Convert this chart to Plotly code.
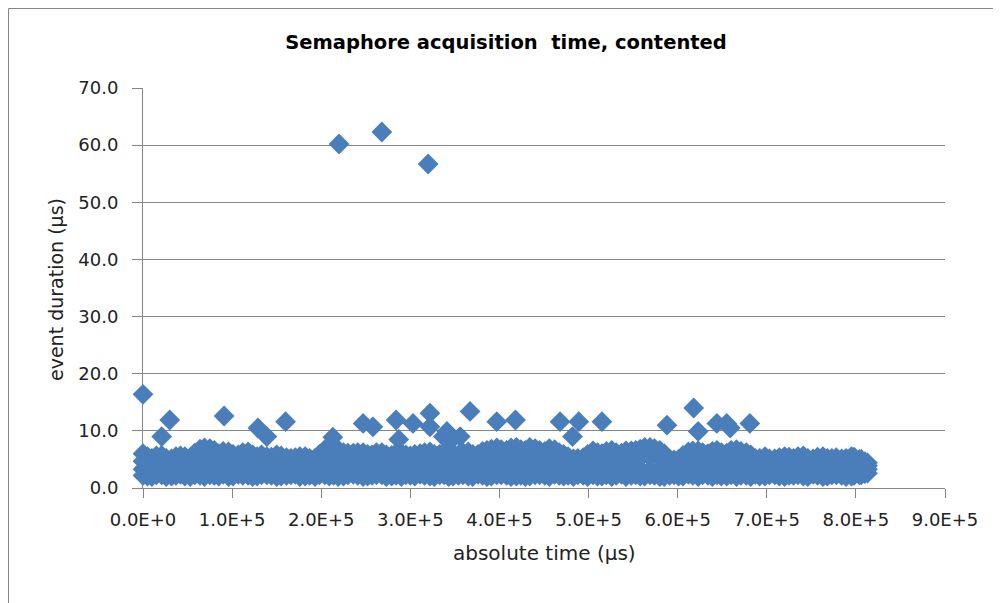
import plotly.graph_objects as go

# ---------------- data ----------------
# dense band of events: event times (µs) and stacked samples of durations (µs)
band_t = [
    0, 10000, 21000, 32000, 42000, 53000, 64000, 75000, 85000, 96000, 107000,
    118000, 128000, 139000, 150000, 161000, 171000, 182000, 193000, 204000, 214000, 225000,
    236000, 247000, 257000, 268000, 279000, 290000, 300000, 311000, 322000, 333000, 343000,
    354000, 365000, 376000, 386000, 397000, 408000, 419000, 429000, 440000, 451000, 462000,
    472000, 483000, 494000, 505000, 515000, 526000, 537000, 548000, 558000, 569000, 580000,
    591000, 601000, 612000, 623000, 634000, 644000, 655000, 666000, 677000, 687000, 698000,
    709000, 720000, 730000, 741000, 752000, 763000, 773000, 784000, 795000, 806000, 813000,
]
band_low = [
    2.2, 2.0, 2.3, 2.1, 2.4, 2.0, 2.2, 2.3, 2.1, 2.0, 2.4,
    2.2, 2.1, 2.3, 2.0, 2.2, 2.4, 2.1, 2.0, 2.3, 2.2, 2.1,
    2.4, 2.0, 2.2, 2.3, 2.1, 2.0, 2.2, 2.4, 2.1, 2.3, 2.0,
    2.2, 2.1, 2.4, 2.0, 2.3, 2.2, 2.1, 2.0, 2.3, 2.2, 2.4,
    2.1, 2.0, 2.2, 2.3, 2.1, 2.0, 2.4, 2.2, 2.1, 2.3, 2.0,
    2.2, 2.1, 2.4, 2.0, 2.2, 2.3, 2.1, 2.0, 2.2, 2.4, 2.1,
    2.3, 2.0, 2.2, 2.1, 2.4, 2.0, 2.3, 2.2, 2.1, 2.3, 2.6,
]
band_mid1 = [
    3.3, 3.1, 3.4, 3.2, 3.3, 3.1, 3.4, 3.3, 3.2, 3.4, 3.1,
    3.3, 3.2, 3.4, 3.1, 3.3, 3.2, 3.4, 3.1, 3.3, 3.4, 3.2,
    3.1, 3.3, 3.4, 3.2, 3.3, 3.1, 3.4, 3.2, 3.3, 3.1, 3.4,
    3.2, 3.3, 3.1, 3.4, 3.2, 3.3, 3.4, 3.1, 3.3, 3.2, 3.4,
    3.3, 3.1, 3.2, 3.4, 3.3, 3.1, 3.2, 3.4, 3.3, 3.1, 3.3,
    3.2, 3.4, 3.1, 3.3, 3.2, 3.4, 3.1, 3.3, 3.2, 3.4, 3.1,
    3.3, 3.2, 3.4, 3.1, 3.3, 3.2, 3.4, 3.1, 3.3, 3.2, 3.3,
]
band_mid2 = [
    4.7, 4.5, 4.6, 4.4, 4.6, 4.5, 5.1, 5.3, 4.8, 4.9, 4.7,
    4.9, 4.6, 4.5, 4.7, 4.5, 4.4, 4.6, 4.4, 5.1, 5.3, 4.9,
    4.8, 4.9, 4.7, 4.8, 4.7, 4.8, 4.6, 4.7, 4.9, 4.8, 4.9,
    4.7, 4.9, 4.8, 5.1, 5.3, 5.0, 5.4, 5.1, 5.3, 5.0, 5.1,
    4.8, 4.4, 4.5, 5.0, 4.8, 5.1, 4.9, 5.0, 5.3, 5.4, 5.1,
    4.3, 4.3, 4.9, 5.1, 4.8, 5.0, 4.9, 5.1, 4.9, 4.5, 4.5,
    4.4, 4.5, 4.5, 4.6, 4.4, 4.5, 4.5, 4.4, 4.5, 4.4, 3.9,
]
band_high = [
    6.0, 5.2, 5.7, 5.1, 5.6, 5.3, 6.8, 6.9, 6.0, 6.3, 5.8,
    6.3, 5.5, 5.5, 5.8, 5.3, 5.3, 5.5, 5.2, 6.7, 6.9, 6.2,
    6.1, 6.2, 5.8, 6.2, 5.7, 6.1, 5.6, 6.0, 6.3, 5.9, 6.4,
    5.8, 6.3, 5.9, 6.6, 7.0, 6.6, 7.1, 6.6, 6.9, 6.4, 6.7,
    5.9, 5.1, 5.3, 6.5, 6.0, 6.6, 6.1, 6.5, 6.8, 7.1, 6.6,
    5.0, 5.0, 6.3, 6.5, 6.0, 6.6, 6.1, 6.7, 6.2, 5.2, 5.5,
    5.1, 5.5, 5.2, 5.6, 5.1, 5.5, 5.2, 5.1, 5.5, 5.0, 4.4,
]
# second, interleaved set of events filling the band edges
band_t2 = [
    5000, 15000, 26000, 37000, 47000, 58000, 69000, 80000, 90000, 101000, 112000,
    123000, 133000, 144000, 155000, 166000, 176000, 187000, 198000, 209000, 219000, 230000,
    241000, 252000, 262000, 273000, 284000, 295000, 305000, 316000, 327000, 338000, 348000,
    359000, 370000, 381000, 391000, 402000, 413000, 424000, 434000, 445000, 456000, 467000,
    477000, 488000, 499000, 510000, 520000, 531000, 542000, 553000, 563000, 574000, 585000,
    596000, 606000, 617000, 628000, 639000, 649000, 660000, 671000, 682000, 692000, 703000,
    714000, 725000, 735000, 746000, 757000, 768000, 778000, 789000, 798000, 804000, 810000,
]
band_low2 = [
    2.1, 2.3, 2.0, 2.2, 2.1, 2.3, 2.0, 2.2, 2.4, 2.1, 2.2,
    2.0, 2.3, 2.2, 2.1, 2.3, 2.0, 2.2, 2.3, 2.1, 2.0, 2.3,
    2.2, 2.1, 2.3, 2.0, 2.2, 2.3, 2.1, 2.2, 2.0, 2.3, 2.1,
    2.3, 2.0, 2.2, 2.1, 2.3, 2.0, 2.2, 2.1, 2.3, 2.0, 2.2,
    2.2, 2.3, 2.0, 2.1, 2.3, 2.2, 2.0, 2.3, 2.1, 2.2, 2.0,
    2.3, 2.1, 2.2, 2.3, 2.0, 2.1, 2.3, 2.2, 2.0, 2.1, 2.3,
    2.1, 2.2, 2.3, 2.0, 2.2, 2.1, 2.3, 2.0, 2.2, 2.3, 2.5,
]
band_high2 = [
    5.5, 5.6, 5.2, 5.5, 5.5, 6.1, 7.0, 6.6, 6.4, 5.9, 6.2,
    5.8, 5.8, 5.4, 5.6, 5.2, 5.5, 5.2, 5.9, 6.9, 6.7, 6.1,
    6.2, 5.9, 6.2, 5.8, 6.1, 5.8, 5.9, 6.2, 5.9, 6.3, 6.0,
    6.2, 5.9, 6.4, 6.8, 6.7, 7.0, 6.7, 7.1, 6.6, 6.9, 6.2,
    5.5, 5.2, 5.9, 6.2, 6.4, 6.2, 6.5, 6.6, 7.1, 6.9, 6.0,
    4.9, 5.7, 6.5, 6.2, 6.4, 6.2, 6.6, 6.4, 5.8, 5.2, 5.1,
    5.3, 5.4, 5.5, 5.2, 5.4, 5.2, 5.3, 5.2, 5.4, 5.0, 4.6,
]

# isolated slow acquisitions
outlier_t = [
    0, 21000, 30000, 91000, 129000, 139000, 160000, 213000, 220000, 247000,
    258000, 268000, 284000, 287000, 303000, 320000, 322000, 322000, 337000, 341000,
    346000, 356000, 367000, 397000, 418000, 468000, 482000, 489000, 515000, 588000,
    618000, 623000, 644000, 655000, 659000, 681000,
]
outlier_v = [
    16.4, 9.0, 11.9, 12.6, 10.5, 9.0, 11.6, 8.9, 60.2, 11.3,
    10.7, 62.3, 11.9, 8.5, 11.3, 56.7, 13.1, 10.7, 9.0, 9.9,
    8.4, 9.0, 13.4, 11.6, 11.9, 11.6, 9.0, 11.6, 11.6, 11.0,
    14.0, 9.9, 11.3, 11.3, 10.5, 11.3,
]

x_tickvals = [0, 100000, 200000, 300000, 400000, 500000, 600000, 700000, 800000, 900000]
x_ticktext = ["0.0E+0", "1.0E+5", "2.0E+5", "3.0E+5", "4.0E+5",
              "5.0E+5", "6.0E+5", "7.0E+5", "8.0E+5", "9.0E+5"]
y_tickvals = [0, 10, 20, 30, 40, 50, 60, 70]
y_ticktext = ["0.0", "10.0", "20.0", "30.0", "40.0", "50.0", "60.0", "70.0"]

title_text = "Semaphore acquisition\u00a0 time, contented"
x_title = "absolute time (µs)"
y_title = "event duration (µs)"

# ---------------- figure ----------------
BLUE = "#4a7ebb"
GREY = "#868686"
FONT = "DejaVu Sans"

xs = band_t + band_t + band_t + band_t + band_t2 + band_t2 + outlier_t
ys = band_low + band_mid1 + band_mid2 + band_high + band_low2 + band_high2 + outlier_v

fig = go.Figure()
fig.add_trace(go.Scatter(
    x=xs, y=ys, mode="markers",
    marker=dict(symbol="diamond", size=16, color=BLUE, line=dict(width=0)),
    cliponaxis=False, showlegend=False, hoverinfo="x+y",
))

# the page body adds an 8px offset; the figure is sized to fit the 1001x603 window
OFF = 8
W, H = 1001 - OFF, 603 - OFF
L, T = 143 - OFF, 88 - OFF
PW, PH = 802, 400
R, B = W - L - PW, H - T - PH


def px_x(page_px):
    return (page_px - 143) / PW


def px_y(page_py):
    return (488 - page_py) / PH


fig.update_layout(
    width=W, height=H,
    margin=dict(l=L, r=R, t=T, b=B, pad=0),
    paper_bgcolor="white", plot_bgcolor="white",
    showlegend=False,
    title=dict(text=title_text, x=(506 - OFF) / W, xref="container", xanchor="center",
               y=1 - (42 - OFF) / H, yref="container", yanchor="middle",
               font=dict(family=FONT, size=19.5, color="#000000", weight="bold")),
    xaxis=dict(range=[0, 900000], tickvals=x_tickvals, ticktext=x_ticktext,
               showgrid=False, zeroline=False, showline=True, linecolor=GREY, linewidth=1,
               ticks="outside", ticklen=9, tickcolor=GREY, tickwidth=1,
               ticklabelstandoff=6, layer="below traces",
               tickfont=dict(family=FONT, size=18, color="#222222")),
    yaxis=dict(range=[0, 70], tickvals=y_tickvals, ticktext=y_ticktext,
               showgrid=True, gridcolor=GREY, gridwidth=1, zeroline=False,
               showline=True, linecolor=GREY, linewidth=1,
               ticks="outside", ticklen=10, tickcolor=GREY, tickwidth=1,
               ticklabelstandoff=10, layer="below traces",
               tickfont=dict(family=FONT, size=18, color="#222222")),
    annotations=[
        dict(text=x_title, xref="paper", yref="paper", x=px_x(544), y=px_y(553),
             xanchor="center", yanchor="middle", showarrow=False,
             font=dict(family=FONT, size=20, color="#222222")),
        dict(text=y_title, xref="paper", yref="paper", x=px_x(56), y=px_y(290),
             xanchor="center", yanchor="middle", showarrow=False, textangle=-90,
             font=dict(family=FONT, size=19, color="#222222")),
    ],
    shapes=[
        dict(type="rect", xref="paper", yref="paper",
             x0=px_x(OFF + 0.5), x1=px_x(1010), y0=px_y(610), y1=px_y(OFF + 0.5),
             line=dict(color=GREY, width=1), fillcolor="rgba(0,0,0,0)", layer="below"),
    ],
)

fig.write_html("out.html")
